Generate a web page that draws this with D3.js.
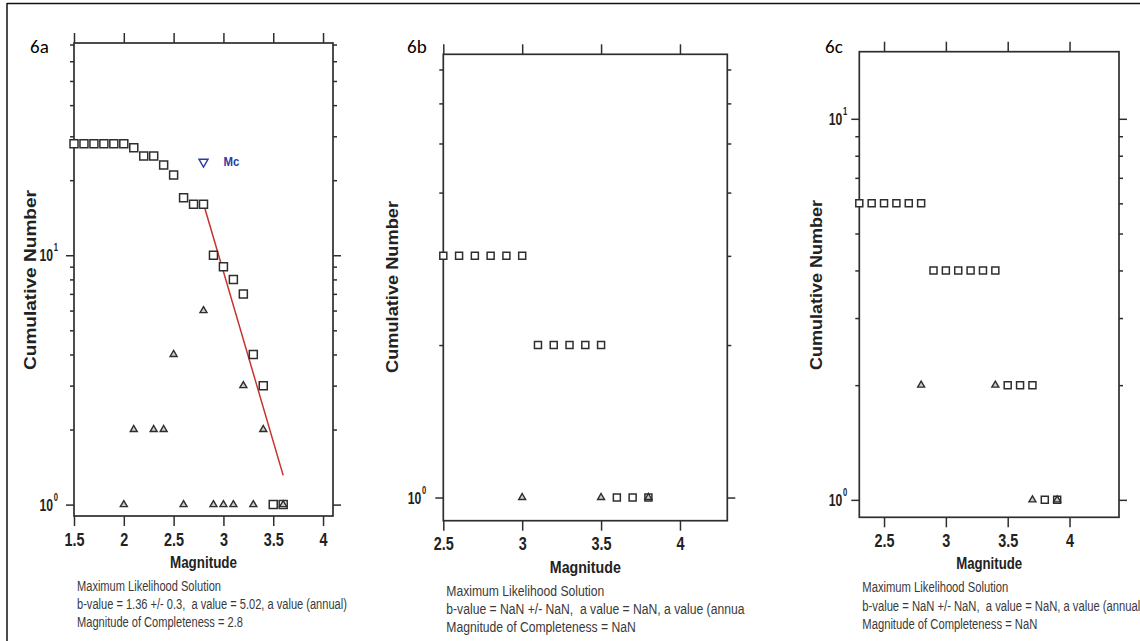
<!DOCTYPE html>
<html>
<head>
<meta charset="utf-8">
<script src="https://cdn.jsdelivr.net/npm/d3@7"></script>
<style>
  html, body { margin: 0; padding: 0; background: #fff; }
  svg { display: block; }
</style>
</head>
<body>
<svg id="chart" width="1140" height="641"></svg>
<script>
// ---- 6a ----
const mag6a = [1.5, 1.6, 1.7, 1.8, 1.9, 2.0, 2.1, 2.2, 2.3, 2.4, 2.5, 2.6, 2.7, 2.8, 2.9, 3.0, 3.1, 3.2, 3.3, 3.4, 3.5, 3.6];
const cum6a = [28, 28, 28, 28, 28, 28, 27, 25, 25, 23, 21, 17, 16, 16, 10, 9, 8, 7, 4, 3, 1, 1];
const triMag6a = [2.0, 2.1, 2.3, 2.4, 2.5, 2.6, 2.8, 2.9, 3.0, 3.1, 3.2, 3.3, 3.4, 3.6];
const tri6a = [1, 2, 2, 2, 4, 1, 6, 1, 1, 1, 3, 1, 2, 1];
const fitMag6a = [2.8, 3.6];
const fitN6a = [16.1, 1.31];
const mcMag6a = 2.8;
const mcN6a = 23.7;
const xTicks6a = [1.5, 2, 2.5, 3, 3.5, 4];
const text6a = [
  "Maximum Likelihood Solution",
  "b-value = 1.36 +/- 0.3,  a value = 5.02, a value (annual)",
  "Magnitude of Completeness = 2.8"
];

// ---- 6b ----
const mag6b = [2.5, 2.6, 2.7, 2.8, 2.9, 3.0, 3.1, 3.2, 3.3, 3.4, 3.5, 3.6, 3.7, 3.8];
const cum6b = [3, 3, 3, 3, 3, 3, 2, 2, 2, 2, 2, 1, 1, 1];
const triMag6b = [3.0, 3.5, 3.8];
const tri6b = [1, 1, 1];
const xTicks6b = [2.5, 3, 3.5, 4];
const text6b = [
  "Maximum Likelihood Solution",
  "b-value = NaN +/- NaN,  a value = NaN, a value (annual)",
  "Magnitude of Completeness = NaN"
];

// ---- 6c ----
const mag6c = [2.3, 2.4, 2.5, 2.6, 2.7, 2.8, 2.9, 3.0, 3.1, 3.2, 3.3, 3.4, 3.5, 3.6, 3.7, 3.8, 3.9];
const cum6c = [6, 6, 6, 6, 6, 6, 4, 4, 4, 4, 4, 4, 2, 2, 2, 1, 1];
const triMag6c = [2.8, 3.4, 3.7, 3.9];
const tri6c = [2, 2, 1, 1];
const xTicks6c = [2.5, 3, 3.5, 4];
const text6c = text6b;

const panels = [
  { name: "6a", mags: mag6a, cum: cum6a, triMags: triMag6a, tri: tri6a, xTicks: xTicks6a, text: text6a,
    xDom: [1.5, 4.1], yDom: [0.9, 71], left: 74, right: 333, top: 43, bottom: 516,
    sq: 8, triSide: 7, tag: [30, 52.5], yLab: [30, 280, 180], gap: 16, textW: 144, magW: 67, clip: null },
  { name: "6b", mags: mag6b, cum: cum6b, triMags: triMag6b, tri: tri6b, xTicks: xTicks6b, text: text6b,
    xDom: [2.5, 4.3], yDom: [0.9, 7.5], left: 443.3, right: 727.3, top: 54.3, bottom: 520.7,
    sq: 7, triSide: 7, tag: [407, 52.7], yLab: [392, 287, 172], gap: 17, textW: 158, magW: 71, clip: [380, 745] },
  { name: "6c", mags: mag6c, cum: cum6c, triMags: triMag6c, tri: tri6c, xTicks: xTicks6c, text: text6c,
    xDom: [2.3, 4.4], yDom: [0.9, 15], left: 859.3, right: 1119, top: 51.7, bottom: 517.3,
    sq: 7, triSide: 7, tag: [825, 53.3], yLab: [816, 285, 170], gap: 12, textW: 146, magW: 66, clip: null }
];

const svg = d3.select("#chart");
const ink = "#2e2e2e";
const sans = "'Liberation Sans', Arial, sans-serif";

// squeeze text horizontally, like the narrow fonts of the original plots
function squeeze(sel, k) {
  sel.each(function () {
    const w = this.getComputedTextLength();
    d3.select(this).attr("textLength", w * k).attr("lengthAdjust", "spacingAndGlyphs");
  });
}

function styleTicks(g) {
  g.select(".domain").remove();
  g.selectAll(".tick line").attr("stroke", ink).attr("stroke-width", 1.5);
}

// outer frame of the figure
svg.append("line").attr("x1", 7).attr("x2", 1140).attr("y1", 3.5).attr("y2", 3.5)
  .attr("stroke", "#111").attr("stroke-width", 1.5);
svg.append("line").attr("x1", 7).attr("x2", 7).attr("y1", 3).attr("y2", 641)
  .attr("stroke", "#111").attr("stroke-width", 1.5);

panels.forEach((p, idx) => {
  const g = svg.append("g");
  const x = d3.scaleLinear().domain(p.xDom).range([p.left, p.right]);
  const y = d3.scaleLog().domain(p.yDom).range([p.bottom, p.top]);

  const yt = y.ticks().filter(t => t >= 1);
  const majors = yt.filter(t => Math.abs(Math.log10(t) - Math.round(Math.log10(t))) < 1e-9);
  const minors = yt.filter(t => !majors.includes(t));

  // y axes, both sides
  g.append("g").attr("transform", `translate(${p.left},0)`)
    .call(d3.axisLeft(y).tickValues(minors).tickSize(4).tickFormat("")).call(styleTicks);
  g.append("g").attr("transform", `translate(${p.left},0)`)
    .call(d3.axisLeft(y).tickValues(majors).tickSize(8).tickFormat("")).call(styleTicks);
  g.append("g").attr("transform", `translate(${p.right},0)`)
    .call(d3.axisRight(y).tickValues(minors).tickSize(4).tickFormat("")).call(styleTicks);
  g.append("g").attr("transform", `translate(${p.right},0)`)
    .call(d3.axisRight(y).tickValues(majors).tickSize(8).tickFormat("")).call(styleTicks);

  // x axes, top and bottom
  g.append("g").attr("transform", `translate(0,${p.top})`)
    .call(d3.axisTop(x).tickValues(p.xTicks).tickSize(10).tickFormat("")).call(styleTicks);
  const xb = g.append("g").attr("transform", `translate(0,${p.bottom})`)
    .call(d3.axisBottom(x).tickValues(p.xTicks).tickSize(10).tickPadding(7).tickFormat(d => String(d)))
    .call(styleTicks);
  xb.selectAll(".tick text")
    .attr("font-family", sans).attr("font-size", 18).attr("font-weight", "bold").attr("fill", "#222")
    .call(squeeze, 0.8);

  // frame
  g.append("rect")
    .attr("x", p.left).attr("y", p.top)
    .attr("width", p.right - p.left).attr("height", p.bottom - p.top)
    .attr("fill", "none").attr("stroke", ink).attr("stroke-width", 1.7);

  // decade labels 10^n, one text with a raised exponent
  majors.forEach(m => {
    const n = Math.round(Math.log10(m));
    const t = g.append("text")
      .attr("transform", `translate(${p.left - p.gap},${y(m) + 6}) scale(0.76,1)`)
      .attr("text-anchor", "end")
      .attr("font-family", sans).attr("font-size", 16).attr("font-weight", "bold").attr("fill", "#222");
    t.append("tspan").text("10");
    t.append("tspan").attr("dx", 1).attr("dy", -10).attr("font-size", 10).text(String(n));
  });

  // fit line and Mc marker (6a only)
  if (p.name === "6a") {
    g.append("path")
      .datum(d3.zip(fitMag6a, fitN6a))
      .attr("d", d3.line().x(d => x(d[0])).y(d => y(d[1])))
      .attr("fill", "none").attr("stroke", "#c8312c").attr("stroke-width", 1.5);
    g.append("path")
      .attr("d", d3.symbol(d3.symbolTriangle, 36)())
      .attr("transform", `translate(${x(mcMag6a)},${y(mcN6a)}) rotate(180)`)
      .attr("fill", "#fff").attr("stroke", "#2b3aa6").attr("stroke-width", 1.4);
    g.append("text")
      .attr("x", x(mcMag6a) + 20).attr("y", y(mcN6a) + 4.5)
      .attr("font-family", sans).attr("font-size", 13).attr("font-weight", "bold").attr("fill", "#2b3aa6")
      .text("Mc").call(squeeze, 0.88);
  }

  // cumulative counts (squares)
  g.selectAll(".sq").data(d3.zip(p.mags, p.cum)).join("path")
    .attr("class", "sq")
    .attr("d", d3.symbol(d3.symbolSquare, p.sq * p.sq)())
    .attr("transform", d => `translate(${x(d[0])},${y(d[1])})`)
    .attr("fill", "#fff").attr("stroke", ink).attr("stroke-width", 1.5);

  // non-cumulative counts (triangles)
  const triArea = Math.sqrt(3) / 4 * p.triSide * p.triSide;
  g.selectAll(".tri").data(d3.zip(p.triMags, p.tri)).join("path")
    .attr("class", "tri")
    .attr("d", d3.symbol(d3.symbolTriangle, triArea)())
    .attr("transform", d => `translate(${x(d[0])},${y(d[1])})`)
    .attr("fill", "#ccc").attr("stroke", ink).attr("stroke-width", 1.4);

  // axis titles
  g.append("text")
    .attr("x", (p.left + p.right) / 2).attr("y", p.bottom + 52)
    .attr("text-anchor", "middle")
    .attr("font-family", sans).attr("font-size", 17).attr("font-weight", "bold").attr("fill", "#222")
    .attr("textLength", p.magW).attr("lengthAdjust", "spacingAndGlyphs")
    .text("Magnitude");
  g.append("text")
    .attr("transform", `translate(${p.yLab[0] + 6},${p.yLab[1]}) rotate(-90)`)
    .attr("text-anchor", "middle")
    .attr("font-family", sans).attr("font-size", 17).attr("font-weight", "bold").attr("fill", "#222")
    .attr("textLength", p.yLab[2]).attr("lengthAdjust", "spacingAndGlyphs")
    .text("Cumulative Number");

  // panel tag
  g.append("text")
    .attr("x", p.tag[0]).attr("y", p.tag[1])
    .attr("font-family", "Carlito, 'Open Sans', sans-serif").attr("font-size", 19).attr("fill", "#000")
    .text(p.name);

  // solution text below the plot
  const tg = g.append("g");
  if (p.clip) {
    const cid = "clip" + idx;
    svg.append("clipPath").attr("id", cid).append("rect")
      .attr("x", p.clip[0]).attr("y", p.bottom + 40).attr("width", p.clip[1] - p.clip[0]).attr("height", 100);
    tg.attr("clip-path", `url(#${cid})`);
  }
  const lines = tg.selectAll("text").data(p.text).join("text")
    .attr("x", p.left + 3)
    .attr("y", (d, i) => p.bottom + 75 + i * 18.2)
    .attr("font-family", sans).attr("font-size", 14).attr("fill", "#3a3a3a")
    .style("white-space", "pre")
    .text(d => d);
  const k = p.textW / lines.node().getComputedTextLength();
  lines.call(squeeze, k);
});
</script>
</body>
</html>
